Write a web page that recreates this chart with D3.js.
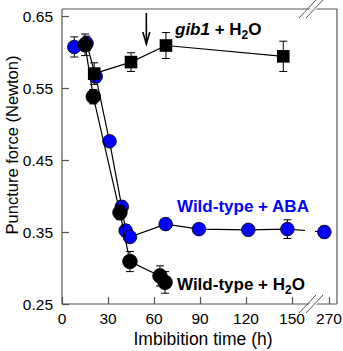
<!DOCTYPE html>
<html><head><meta charset="utf-8">
<script src="https://cdn.jsdelivr.net/npm/d3@7"></script>
<style>body{margin:0;background:#fff}svg{display:block;font-family:"Liberation Sans",Arial,sans-serif}</style>
</head><body><svg id="c" width="343" height="351"></svg>
<script>
// Data
const abaTime  = [8, 16, 22, 31, 39, 41.5, 44.3, 67.6, 89.3, 121.5, 147, 255];
const abaForce = [0.607, 0.612, 0.566, 0.476, 0.385, 0.352, 0.343, 0.361, 0.354, 0.353, 0.354, 0.350];
const abaErr   = [0.014, 0.010, 0.008, 0.006, 0.008, 0.008, 0.006, 0.005, 0.005, 0.005, 0.013, 0.008];

const h2oTime  = [15, 20.4, 37.8, 44.3, 63.9, 67.2];
const h2oForce = [0.610, 0.538, 0.377, 0.309, 0.289, 0.280];
const h2oErr   = [0.015, 0.010, 0.010, 0.014, 0.014, 0.015];

const gibTime  = [21, 45, 67.8, 144.3];
const gibForce = [0.570, 0.586, 0.609, 0.594];
const gibErr   = [0.015, 0.013, 0.018, 0.021];

const xTicks = [0, 30, 60, 90, 120, 150, 270];
const yTicks = [0.25, 0.35, 0.45, 0.55, 0.65];
const yTickLabels = ["0.25", "0.35", "0.45", "0.55", "0.65"];
const arrowTime = 55;

const svg = d3.select("#c");
const L = 62, R = 337, T = 9, B = 304;
const x = d3.scaleLinear().domain([0, 150, 270]).range([62, 292, 329]);
const y = d3.scaleLinear().domain([0.25, 0.65]).range([304, 16]);
const axisCol = "#555";

// frame (top & right)
svg.append("line").attr("x1", L).attr("x2", R).attr("y1", T).attr("y2", T).attr("stroke", axisCol).attr("stroke-width", 1.2);
svg.append("line").attr("x1", R).attr("x2", R).attr("y1", T).attr("y2", B).attr("stroke", axisCol).attr("stroke-width", 1.2);

// axes
const yAxis = d3.axisRight(y).tickValues(yTicks).tickSize(7).tickFormat("");
const gy = svg.append("g").attr("transform", `translate(${L},0)`).call(yAxis);
gy.select(".domain").remove();
gy.selectAll("line").attr("stroke", axisCol).attr("stroke-width", 1.2);
svg.append("line").attr("x1", L).attr("x2", L).attr("y1", T).attr("y2", B).attr("stroke", axisCol).attr("stroke-width", 1.2);
svg.append("g").selectAll("text").data(yTicks).join("text")
  .attr("x", 53).attr("y", d => y(d)).attr("dy", "0.36em").attr("text-anchor", "end")
  .attr("font-size", 15.5).text((d, i) => yTickLabels[i]);

const xAxis = d3.axisTop(x).tickValues(xTicks).tickSize(7).tickFormat("");
const gx = svg.append("g").attr("transform", `translate(0,${B})`).call(xAxis);
gx.select(".domain").remove();
gx.selectAll("line").attr("stroke", axisCol).attr("stroke-width", 1.2);
svg.append("line").attr("x1", L).attr("x2", R).attr("y1", B).attr("y2", B).attr("stroke", axisCol).attr("stroke-width", 1.2);
svg.append("g").selectAll("text").data(xTicks).join("text")
  .attr("x", d => x(d)).attr("y", 324).attr("text-anchor", "middle")
  .attr("font-size", 15.5).text(d => d);

// break marks (axis & top frame)
function brk(cy) {
  svg.append("polygon").attr("points", `${301},${cy+9} ${308},${cy+9} ${325},${cy-9} ${318},${cy-9}`).attr("fill", "#fff");
  svg.append("line").attr("x1", 299).attr("y1", cy + 9).attr("x2", 316).attr("y2", cy - 9).attr("stroke", axisCol).attr("stroke-width", 1);
  svg.append("line").attr("x1", 306).attr("y1", cy + 9).attr("x2", 323).attr("y2", cy - 9).attr("stroke", axisCol).attr("stroke-width", 1);
}
brk(B); brk(T);

// axis titles
svg.append("text").attr("x", 203).attr("y", 345).attr("text-anchor", "middle").attr("font-size", 17.5).text("Imbibition time (h)");
svg.append("text").attr("transform", "translate(18,145) rotate(-90)").attr("text-anchor", "middle").attr("font-size", 16.5).text("Puncture force (Newton)");

// clip for line break
const defs = svg.append("defs");
const cp = defs.append("clipPath").attr("id", "gap");
cp.append("rect").attr("x", 0).attr("y", 0).attr("width", 305).attr("height", 351);
cp.append("rect").attr("x", 315).attr("y", 0).attr("width", 40).attr("height", 351);

function series(t, f, e, fill, shape, r) {
  const g = svg.append("g");
  const pts = t.map((d, i) => ({ t: d, f: f[i], e: e[i] }));
  g.append("path").datum(pts).attr("clip-path", "url(#gap)")
    .attr("d", d3.line().x(d => x(d.t)).y(d => y(d.f)))
    .attr("fill", "none").attr("stroke", "#000").attr("stroke-width", 1.2);
  const eb = g.append("g").attr("stroke", "#000").attr("stroke-width", 1);
  pts.forEach(d => {
    const cx = x(d.t), y1 = y(d.f + d.e), y2 = y(d.f - d.e);
    eb.append("line").attr("x1", cx).attr("x2", cx).attr("y1", y1).attr("y2", y2);
    eb.append("line").attr("x1", cx - 4).attr("x2", cx + 4).attr("y1", y1).attr("y2", y1);
    eb.append("line").attr("x1", cx - 4).attr("x2", cx + 4).attr("y1", y2).attr("y2", y2);
  });
  if (shape === "circle") {
    g.selectAll("circle").data(pts).join("circle")
      .attr("cx", d => x(d.t)).attr("cy", d => y(d.f)).attr("r", r)
      .attr("fill", fill).attr("stroke", "#000").attr("stroke-width", 0.8);
  } else {
    g.selectAll("rect.m").data(pts).join("rect").attr("class", "m")
      .attr("x", d => x(d.t) - r).attr("y", d => y(d.f) - r).attr("width", 2 * r).attr("height", 2 * r)
      .attr("fill", fill);
  }
}
series(abaTime, abaForce, abaErr, "#0000ff", "circle", 6.8);
series(h2oTime, h2oForce, h2oErr, "#000", "circle", 7.3);
series(gibTime, gibForce, gibErr, "#000", "square", 6.3);

// arrow
const ax = x(arrowTime);
svg.append("line").attr("x1", ax).attr("x2", ax).attr("y1", 13).attr("y2", 44).attr("stroke", "#000").attr("stroke-width", 1.6);
svg.append("path").attr("d", `M${ax - 3.5},${32} L${ax},${44} L${ax + 3.5},${32}`).attr("fill", "none").attr("stroke", "#000").attr("stroke-width", 1.6);

// labels
const l1 = svg.append("text").attr("x", 175).attr("y", 35).attr("font-size", 17).attr("font-weight", "bold");
l1.append("tspan").attr("font-style", "italic").text("gib1");
l1.append("tspan").text(" + H");
l1.append("tspan").attr("font-size", 12).attr("dy", 4).text("2");
l1.append("tspan").attr("dy", -4).text("O");

svg.append("text").attr("x", 177).attr("y", 211.5).attr("font-size", 17).attr("font-weight", "bold").attr("fill", "#0000ff").text("Wild-type + ABA");

const l3 = svg.append("text").attr("x", 177).attr("y", 290).attr("font-size", 17).attr("font-weight", "bold");
l3.append("tspan").text("Wild-type + H");
l3.append("tspan").attr("font-size", 12).attr("dy", 4).text("2");
l3.append("tspan").attr("dy", -4).text("O");
</script></body></html>
